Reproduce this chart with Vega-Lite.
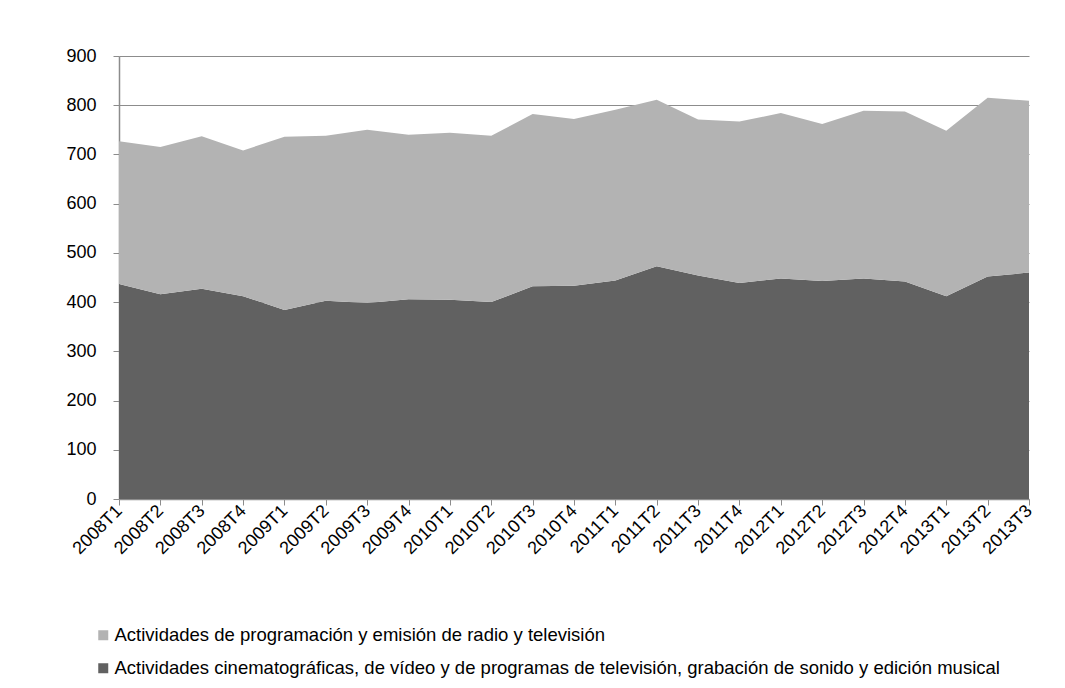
{
  "$schema": "https://vega.github.io/schema/vega-lite/v6.json",
  "autosize": {"type": "none"},
  "width": 910,
  "height": 443,
  "padding": {"left": 119, "top": 56, "right": 36, "bottom": 189},
  "background": "white",
  "config": {
    "font": "Liberation Sans",
    "view": {"stroke": null},
    "axis": {"labelFont": "Liberation Sans", "labelColor": "#000000", "labelFontSize": 18, "domainColor": "#8c8c8c", "tickColor": "#8c8c8c", "gridColor": "#8c8c8c", "gridWidth": 1}
  },
  "data": {
    "values": [
      {"trimestre": "2008T1", "serie": "Actividades cinematográficas, de vídeo y de programas de televisión, grabación de sonido y edición musical", "valor": 437},
      {"trimestre": "2008T2", "serie": "Actividades cinematográficas, de vídeo y de programas de televisión, grabación de sonido y edición musical", "valor": 416},
      {"trimestre": "2008T3", "serie": "Actividades cinematográficas, de vídeo y de programas de televisión, grabación de sonido y edición musical", "valor": 427},
      {"trimestre": "2008T4", "serie": "Actividades cinematográficas, de vídeo y de programas de televisión, grabación de sonido y edición musical", "valor": 412},
      {"trimestre": "2009T1", "serie": "Actividades cinematográficas, de vídeo y de programas de televisión, grabación de sonido y edición musical", "valor": 384},
      {"trimestre": "2009T2", "serie": "Actividades cinematográficas, de vídeo y de programas de televisión, grabación de sonido y edición musical", "valor": 403},
      {"trimestre": "2009T3", "serie": "Actividades cinematográficas, de vídeo y de programas de televisión, grabación de sonido y edición musical", "valor": 398},
      {"trimestre": "2009T4", "serie": "Actividades cinematográficas, de vídeo y de programas de televisión, grabación de sonido y edición musical", "valor": 406},
      {"trimestre": "2010T1", "serie": "Actividades cinematográficas, de vídeo y de programas de televisión, grabación de sonido y edición musical", "valor": 405},
      {"trimestre": "2010T2", "serie": "Actividades cinematográficas, de vídeo y de programas de televisión, grabación de sonido y edición musical", "valor": 400},
      {"trimestre": "2010T3", "serie": "Actividades cinematográficas, de vídeo y de programas de televisión, grabación de sonido y edición musical", "valor": 432},
      {"trimestre": "2010T4", "serie": "Actividades cinematográficas, de vídeo y de programas de televisión, grabación de sonido y edición musical", "valor": 433},
      {"trimestre": "2011T1", "serie": "Actividades cinematográficas, de vídeo y de programas de televisión, grabación de sonido y edición musical", "valor": 444},
      {"trimestre": "2011T2", "serie": "Actividades cinematográficas, de vídeo y de programas de televisión, grabación de sonido y edición musical", "valor": 473},
      {"trimestre": "2011T3", "serie": "Actividades cinematográficas, de vídeo y de programas de televisión, grabación de sonido y edición musical", "valor": 454},
      {"trimestre": "2011T4", "serie": "Actividades cinematográficas, de vídeo y de programas de televisión, grabación de sonido y edición musical", "valor": 439},
      {"trimestre": "2012T1", "serie": "Actividades cinematográficas, de vídeo y de programas de televisión, grabación de sonido y edición musical", "valor": 448},
      {"trimestre": "2012T2", "serie": "Actividades cinematográficas, de vídeo y de programas de televisión, grabación de sonido y edición musical", "valor": 443},
      {"trimestre": "2012T3", "serie": "Actividades cinematográficas, de vídeo y de programas de televisión, grabación de sonido y edición musical", "valor": 448},
      {"trimestre": "2012T4", "serie": "Actividades cinematográficas, de vídeo y de programas de televisión, grabación de sonido y edición musical", "valor": 442},
      {"trimestre": "2013T1", "serie": "Actividades cinematográficas, de vídeo y de programas de televisión, grabación de sonido y edición musical", "valor": 412},
      {"trimestre": "2013T2", "serie": "Actividades cinematográficas, de vídeo y de programas de televisión, grabación de sonido y edición musical", "valor": 452},
      {"trimestre": "2013T3", "serie": "Actividades cinematográficas, de vídeo y de programas de televisión, grabación de sonido y edición musical", "valor": 460},
      {"trimestre": "2008T1", "serie": "Actividades de programación y emisión de radio y televisión", "valor": 290},
      {"trimestre": "2008T2", "serie": "Actividades de programación y emisión de radio y televisión", "valor": 299},
      {"trimestre": "2008T3", "serie": "Actividades de programación y emisión de radio y televisión", "valor": 310},
      {"trimestre": "2008T4", "serie": "Actividades de programación y emisión de radio y televisión", "valor": 296},
      {"trimestre": "2009T1", "serie": "Actividades de programación y emisión de radio y televisión", "valor": 352},
      {"trimestre": "2009T2", "serie": "Actividades de programación y emisión de radio y televisión", "valor": 335},
      {"trimestre": "2009T3", "serie": "Actividades de programación y emisión de radio y televisión", "valor": 352},
      {"trimestre": "2009T4", "serie": "Actividades de programación y emisión de radio y televisión", "valor": 334},
      {"trimestre": "2010T1", "serie": "Actividades de programación y emisión de radio y televisión", "valor": 339},
      {"trimestre": "2010T2", "serie": "Actividades de programación y emisión de radio y televisión", "valor": 338},
      {"trimestre": "2010T3", "serie": "Actividades de programación y emisión de radio y televisión", "valor": 350},
      {"trimestre": "2010T4", "serie": "Actividades de programación y emisión de radio y televisión", "valor": 339},
      {"trimestre": "2011T1", "serie": "Actividades de programación y emisión de radio y televisión", "valor": 347},
      {"trimestre": "2011T2", "serie": "Actividades de programación y emisión de radio y televisión", "valor": 338},
      {"trimestre": "2011T3", "serie": "Actividades de programación y emisión de radio y televisión", "valor": 317},
      {"trimestre": "2011T4", "serie": "Actividades de programación y emisión de radio y televisión", "valor": 328},
      {"trimestre": "2012T1", "serie": "Actividades de programación y emisión de radio y televisión", "valor": 336},
      {"trimestre": "2012T2", "serie": "Actividades de programación y emisión de radio y televisión", "valor": 319},
      {"trimestre": "2012T3", "serie": "Actividades de programación y emisión de radio y televisión", "valor": 341},
      {"trimestre": "2012T4", "serie": "Actividades de programación y emisión de radio y televisión", "valor": 345},
      {"trimestre": "2013T1", "serie": "Actividades de programación y emisión de radio y televisión", "valor": 336},
      {"trimestre": "2013T2", "serie": "Actividades de programación y emisión de radio y televisión", "valor": 363},
      {"trimestre": "2013T3", "serie": "Actividades de programación y emisión de radio y televisión", "valor": 349}
    ]
  },
  "mark": {"type": "area", "interpolate": "linear", "opacity": 1},
  "encoding": {
    "x": {
      "field": "trimestre", "type": "ordinal", "sort": null,
      "scale": {"type": "point", "padding": 0},
      "axis": {"title": null, "labelAngle": -45, "labelAlign": "right", "labelBaseline": "middle", "labelPadding": 3, "tickSize": 6, "grid": false, "domainWidth": 1.5}
    },
    "y": {
      "field": "valor", "type": "quantitative", "stack": "zero",
      "scale": {"domain": [0, 900], "nice": false},
      "axis": {"title": null, "values": [0, 100, 200, 300, 400, 500, 600, 700, 800, 900], "tickSize": 6, "labelPadding": 17, "grid": true, "domainWidth": 1.5}
    },
    "color": {
      "field": "serie", "type": "nominal",
      "scale": {
        "domain": ["Actividades de programación y emisión de radio y televisión", "Actividades cinematográficas, de vídeo y de programas de televisión, grabación de sonido y edición musical"],
        "range": ["#b3b3b3", "#616161"]
      },
      "legend": {
        "title": null, "orient": "none", "legendX": -25, "legendY": 570,
        "symbolType": "square", "symbolSize": 100, "symbolStrokeWidth": 0,
        "labelFont": "Liberation Sans", "labelFontSize": 18.5, "labelColor": "#000000",
        "labelLimit": 1000, "labelOffset": 2, "rowPadding": 14
      }
    },
    "order": {"field": "serie", "sort": "ascending"}
  }
}
